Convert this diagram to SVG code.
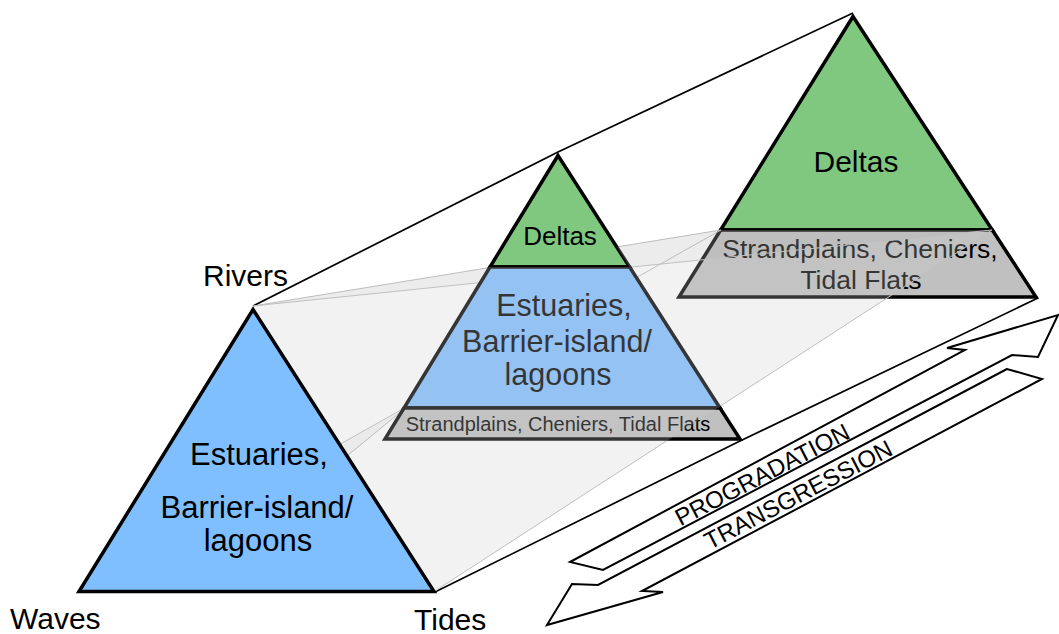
<svg xmlns="http://www.w3.org/2000/svg" width="1059" height="634" viewBox="0 0 1059 634">
<style>
.t{font-family:"Liberation Sans",Arial,sans-serif;fill:#000}
.c{text-anchor:middle}
.edge{fill:none;stroke:#000;stroke-width:1.7;stroke-linejoin:round}
.faint{fill:none;stroke:#bdbdbd;stroke-width:1}
.tri{stroke:#000;stroke-width:3.5;stroke-linejoin:miter}
.green{fill:#80c880}
.blue{fill:#80bfff}
.gray{fill:#c0c0c0}
.arrow{fill:#fff;stroke:#000;stroke-width:2;stroke-linejoin:miter}
</style>
<rect width="1059" height="634" fill="#fff"/>
<g id="connectors">
<polyline class="edge" points="253,306 558,152 853,13"/>
<polyline class="edge" points="435,592 740,441 1038,298"/>
</g>
<g id="far-triangle">
<polygon class="tri green" points="853,16.5 720.6,230 992.3,230"/>
<polygon class="tri gray" points="720.6,230 992.3,230 1036,297 679,297"/>
<text class="t c" x="856" y="172" font-size="30">Deltas</text>
<text class="t c" x="860" y="258" font-size="26.5">Strandplains, Cheniers,</text>
<text class="t c" x="861" y="289" font-size="26.5">Tidal Flats</text>
</g>
<g id="surface-lines">
<line class="faint" x1="253" y1="306" x2="721" y2="230"/>
<line class="faint" x1="253" y1="306" x2="992" y2="230"/>
<line class="faint" x1="435" y1="591" x2="992" y2="230"/>
<line class="faint" x1="79" y1="591" x2="721" y2="230"/>
<line class="faint" x1="347" y1="456" x2="403" y2="410"/>
</g>
<g id="middle-triangle">
<polygon class="tri green" points="558,155.5 490,267 629.6,267"/>
<polygon class="tri blue" points="490,267 629.6,267 720,408 404,408"/>
<polygon class="tri gray" points="404,408 720,408 740,439 385,439"/>
<text class="t c" x="560" y="245" font-size="26">Deltas</text>
<text class="t c" x="564" y="316" font-size="30.5">Estuaries,</text>
<text class="t c" x="557" y="352" font-size="30.5">Barrier-island/</text>
<text class="t c" x="558" y="385" font-size="30.5">lagoons</text>
<text class="t c" x="558" y="431" font-size="20">Strandplains, Cheniers, Tidal Flats</text>
</g>
<g id="surfaces">
<polygon fill="#cdcdcd" fill-opacity="0.26" points="253,306 490,267 629.6,267 617,247 721,230 992,230 435,591.5"/>
<polygon fill="#000" fill-opacity="0.025" points="617,247 629.6,267 992,230 721,230"/>
<polygon fill="#000" fill-opacity="0.025" points="253,306 489,268 479,282"/>
<polygon fill="#000" fill-opacity="0.03" points="343,443 348,456 402,410"/>
</g>
<g id="front-triangle">
<polygon class="tri blue" points="253,309.5 434,591.5 79,591.5"/>
<text class="t c" x="259" y="465" font-size="31">Estuaries,</text>
<text class="t c" x="257" y="518" font-size="31">Barrier-island/</text>
<text class="t c" x="258" y="551" font-size="31">lagoons</text>
</g>
<g id="labels">
<text class="t" x="203" y="286" font-size="30">Rivers</text>
<text class="t" x="10" y="629" font-size="30">Waves</text>
<text class="t" x="414" y="630" font-size="30">Tides</text>
</g>
<g id="arrow-progradation">
<polygon class="arrow" points="570,562 965,350 947,348 1058,315 1038,357 1012,355 603,570"/>
<text class="t c" x="766" y="482" font-size="24" transform="rotate(-27.5 766 482)">PROGRADATION</text>
</g>
<g id="arrow-transgression">
<polygon class="arrow" points="1007,369 598,585 572,584 547,625 663,592 642,591 1042,379"/>
<text class="t c" x="802" y="502" font-size="24" transform="rotate(-27.5 802 502)">TRANSGRESSION</text>
</g>
</svg>
